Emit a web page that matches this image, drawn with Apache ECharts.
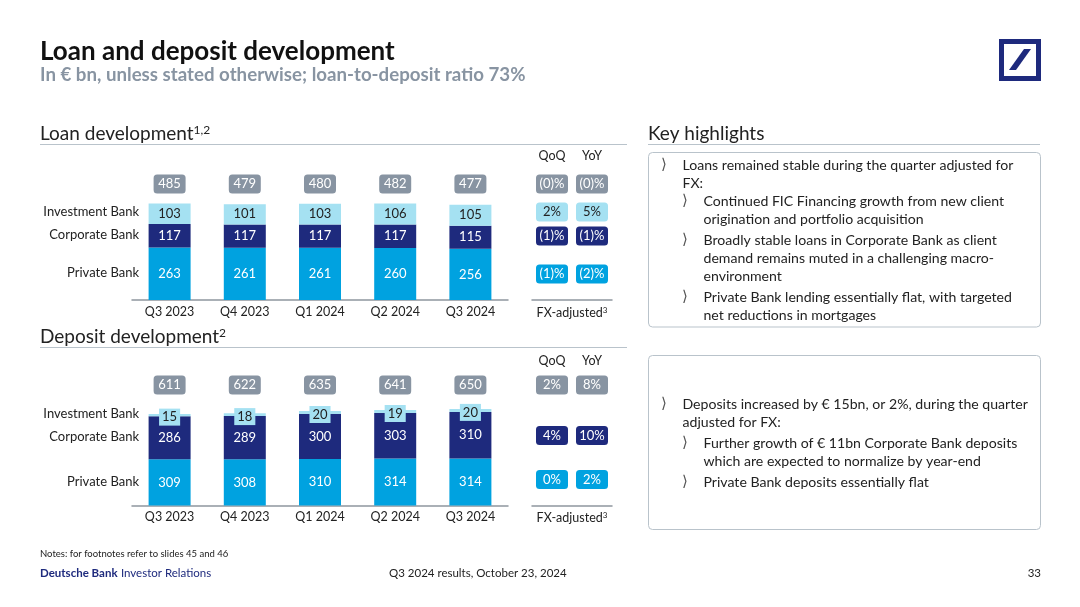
<!DOCTYPE html>
<html>
<head>
<meta charset="utf-8">
<style>
html, body { margin: 0; padding: 0; background: #fff; }
#main { width: 1080px; height: 607px; }
</style>
<script src="https://cdn.jsdelivr.net/npm/echarts@6/dist/echarts.min.js"></script>
</head>
<body>
<div id="main"></div>
<script>
var quarters = ['Q3 2023', 'Q4 2023', 'Q1 2024', 'Q2 2024', 'Q3 2024'];
var tableCols = ['QoQ', 'YoY'];

var loanTotal = [485, 479, 480, 482, 477];
var loanIB = [103, 101, 103, 106, 105];
var loanCB = [117, 117, 117, 117, 115];
var loanPB = [263, 261, 261, 260, 256];
var loanQoQ = ['(0)%', '2%', '(1)%', '(1)%'];
var loanYoY = ['(0)%', '5%', '(1)%', '(2)%'];

var depTotal = [611, 622, 635, 641, 650];
var depIB = [15, 18, 20, 19, 20];
var depCB = [286, 289, 300, 303, 310];
var depPB = [309, 308, 310, 314, 314];
var depQoQ = ['2%', '4%', '0%'];
var depYoY = ['8%', '10%', '2%'];

var FONT = 'Lato';
var GREY = '#8894a2';
var LIGHT = '#a5e1f2';
var NAVY = '#1e2a7d';
var BLUE = '#00a2e0';
var INK = '#222';
var RULE = '#b9c3cb';

// rows of the QoQ/YoY tables, in px above the baseline
var loanRows = [
    { y: 116, color: GREY, text: '#fff' },
    { y: 88, color: LIGHT, text: INK },
    { y: 64, color: NAVY, text: '#fff' },
    { y: 26, color: BLUE, text: '#fff' }
];
var depRows = [
    { y: 120.5, color: GREY, text: '#fff' },
    { y: 70, color: NAVY, text: '#fff' },
    { y: 26, color: BLUE, text: '#fff' }
];

function stackBar(name, values, color, textColor, x, extra) {
    var label = { show: true, position: 'inside', color: textColor, fontFamily: FONT, fontSize: 13 };
    for (var k in extra) label[k] = extra[k];
    return {
        name: name, type: 'bar', stack: 'total' + x, barWidth: 42,
        xAxisIndex: x, yAxisIndex: x === 0 ? 0 : 2,
        itemStyle: { color: color }, label: label, data: values, silent: true
    };
}

// rounded pill: a tiny point carrying a boxed label
function pillLabel(color, textColor, formatter) {
    return {
        show: true, position: 'inside', color: textColor, fontFamily: FONT, fontSize: 13,
        backgroundColor: color, borderRadius: 3.5, width: 32, height: 19, lineHeight: 19,
        align: 'center', verticalAlign: 'middle', formatter: formatter
    };
}

function totalPills(values, x, level) {
    return {
        type: 'scatter', xAxisIndex: x, yAxisIndex: x === 0 ? 0 : 2,
        symbolSize: 1, z: 5, silent: true,
        itemStyle: { color: GREY, opacity: 1 },
        label: pillLabel(GREY, '#fff', function (p) { return values[p.dataIndex]; }),
        data: quarters.map(function (q) { return [q, level]; })
    };
}

function tablePills(rows, col, texts, x, y) {
    return rows.map(function (row, i) {
        return {
            type: 'scatter', xAxisIndex: x, yAxisIndex: y,
            symbolSize: 1, silent: true,
            itemStyle: { color: row.color, opacity: 1 },
            label: pillLabel(row.color, row.text, texts[i]),
            data: [[col, row.y]]
        };
    });
}

function barAxis(grid) {
    return {
        type: 'category', gridIndex: grid, data: quarters,
        axisLine: { lineStyle: { color: '#8f979e', width: 1.5 } },
        axisTick: { show: false },
        axisLabel: { color: INK, fontFamily: FONT, fontSize: 12.5, margin: 5 }
    };
}

function tableBottomAxis(grid) {
    return {
        type: 'category', gridIndex: grid, data: tableCols,
        axisLine: { lineStyle: { color: '#8f979e', width: 1.5 } },
        axisTick: { show: false }, axisLabel: { show: false },
        name: '{a|FX-adjusted}{s|3}', nameLocation: 'middle', nameGap: 6,
        nameTextStyle: {
            rich: {
                a: { color: INK, fontFamily: FONT, fontSize: 12.5 },
                s: { color: INK, fontFamily: FONT, fontSize: 8, verticalAlign: 'top' }
            }
        }
    };
}

function tableTopAxis(grid) {
    return {
        type: 'category', gridIndex: grid, data: tableCols, position: 'top',
        axisLine: { show: false }, axisTick: { show: false },
        axisLabel: { color: INK, fontFamily: FONT, fontSize: 12.5, margin: 3 }
    };
}

function hiddenY(grid, max) {
    return { type: 'value', gridIndex: grid, min: 0, max: max, show: false };
}

function txt(x, y, str, size, color, opts) {
    opts = opts || {};
    return {
        type: 'text', x: x, y: y, silent: true,
        style: {
            text: str, fill: color, align: opts.align || 'left', verticalAlign: 'middle',
            font: (opts.weight || 'normal') + ' ' + size + 'px ' + (opts.family || FONT)
        }
    };
}

function rule(x1, x2, y) {
    return { type: 'line', silent: true, shape: { x1: x1, y1: y, x2: x2, y2: y }, style: { stroke: RULE, lineWidth: 1.2 } };
}

function panel(y, h) {
    return { type: 'rect', silent: true, shape: { x: 648.5, y: y, width: 392, height: h, r: 4 }, style: { fill: '#fff', stroke: RULE, lineWidth: 1 } };
}

function heading(y, str, sup) {
    return {
        type: 'text', x: 40, y: y, silent: true,
        style: {
            text: '{a|' + str + '}' + (sup ? '{s|' + sup + '}' : ''),
            verticalAlign: 'middle',
            rich: {
                a: { fill: INK, font: 'normal 19px ' + FONT },
                s: { fill: INK, font: 'normal 12px ' + FONT, verticalAlign: 'top' }
            }
        }
    };
}

function bulleted(x, lines, firstY) {
    var out = [txt(x, firstY, '\u27E9', 15, '#555', { family: 'DejaVu Sans' })];
    lines.forEach(function (line, i) {
        out.push(txt(x + 21.5, firstY + i * 18, line, 14.1, INK));
    });
    return out;
}

var highlights = [].concat(
    bulleted(661, ['Loans remained stable during the quarter adjusted for', 'FX:'], 165),
    bulleted(682, ['Continued FIC Financing growth from new client', 'origination and portfolio acquisition'], 201),
    bulleted(682, ['Broadly stable loans in Corporate Bank as client', 'demand remains muted in a challenging macro-', 'environment'], 240),
    bulleted(682, ['Private Bank lending essentially flat, with targeted', 'net reductions in mortgages'], 297),
    bulleted(661, ['Deposits increased by \u20AC 15bn, or 2%, during the quarter', 'adjusted for FX:'], 404),
    bulleted(682, ['Further growth of \u20AC 11bn Corporate Bank deposits', 'which are expected to normalize by year-end'], 443),
    bulleted(682, ['Private Bank deposits essentially flat'], 482)
);

var option = {
    animation: false,
    backgroundColor: '#fff',
    textStyle: { fontFamily: FONT },
    grid: [
        { left: 132, width: 376, top: 165, height: 135 },
        { left: 532, width: 80, top: 165, height: 135 },
        { left: 132, width: 376, top: 370.5, height: 135 },
        { left: 532, width: 80, top: 370.5, height: 135 }
    ],
    xAxis: [
        barAxis(0), tableBottomAxis(1), tableTopAxis(1),
        barAxis(2), tableBottomAxis(3), tableTopAxis(3)
    ],
    yAxis: [hiddenY(0, 675), hiddenY(1, 135), hiddenY(2, 900), hiddenY(3, 135)],
    series: [].concat(
        [
            stackBar('Private Bank', loanPB, BLUE, '#fff', 0),
            stackBar('Corporate Bank', loanCB, NAVY, '#fff', 0),
            stackBar('Investment Bank', loanIB, LIGHT, INK, 0),
            totalPills(loanTotal, 0, 580),
            stackBar('Private Bank', depPB, BLUE, '#fff', 3),
            stackBar('Corporate Bank', depCB, NAVY, '#fff', 3),
            stackBar('Investment Bank', depIB, LIGHT, INK, 3, { backgroundColor: LIGHT, padding: [2, 3], offset: [0, 2] }),
            totalPills(depTotal, 3, 803)
        ],
        tablePills(loanRows, 'QoQ', loanQoQ, 1, 1),
        tablePills(loanRows, 'YoY', loanYoY, 1, 1),
        tablePills(depRows, 'QoQ', depQoQ, 4, 3),
        tablePills(depRows, 'YoY', depYoY, 4, 3)
    ),
    graphic: [].concat(
        [
            txt(40, 52, 'Loan and deposit development', 26, '#111', { weight: 'bold' }),
            txt(40, 74.5, 'In \u20AC bn, unless stated otherwise; loan-to-deposit ratio 73%', 18.7, GREY, { weight: 'bold' }),
            { type: 'rect', silent: true, shape: { x: 1001.5, y: 41.5, width: 37, height: 37 }, style: { fill: '#fff', stroke: NAVY, lineWidth: 5 } },
            { type: 'polygon', silent: true, shape: { points: [[1009, 70], [1024, 49], [1031, 49], [1016, 70]] }, style: { fill: NAVY } },
            heading(134, 'Loan development', '1,2'),
            rule(40, 627, 144.5),
            heading(337, 'Deposit development', '2'),
            rule(40, 627, 347.5),
            {
                type: 'text', x: 648, y: 134, silent: true,
                style: { text: 'Key highlights', fill: INK, font: 'normal 19px ' + FONT, verticalAlign: 'middle' }
            },
            rule(648, 1040, 144.5),
            panel(152.5, 174.5),
            panel(355.5, 174),
            txt(139, 212, 'Investment Bank', 13, INK, { align: 'right' }),
            txt(139, 234.5, 'Corporate Bank', 13, INK, { align: 'right' }),
            txt(139, 272.5, 'Private Bank', 13, INK, { align: 'right' }),
            txt(139, 414, 'Investment Bank', 13, INK, { align: 'right' }),
            txt(139, 436.5, 'Corporate Bank', 13, INK, { align: 'right' }),
            txt(139, 481.5, 'Private Bank', 13, INK, { align: 'right' }),
            txt(40, 553.5, 'Notes: for footnotes refer to slides 45 and 46', 9.5, INK),
            {
                type: 'text', x: 40, y: 573.5, silent: true,
                style: {
                    text: '{a|Deutsche Bank} {b|Investor Relations}',
                    verticalAlign: 'middle',
                    rich: {
                        a: { fill: NAVY, font: 'bold 11.5px ' + FONT },
                        b: { fill: NAVY, font: 'normal 11.5px ' + FONT }
                    }
                }
            },
            txt(389, 573.5, 'Q3 2024 results, October 23, 2024', 11.5, INK),
            txt(1041, 573.5, '33', 11.5, INK, { align: 'right' })
        ],
        highlights
    )
};

var chart = echarts.init(document.getElementById('main'));
chart.setOption(option);
</script>
</body>
</html>
